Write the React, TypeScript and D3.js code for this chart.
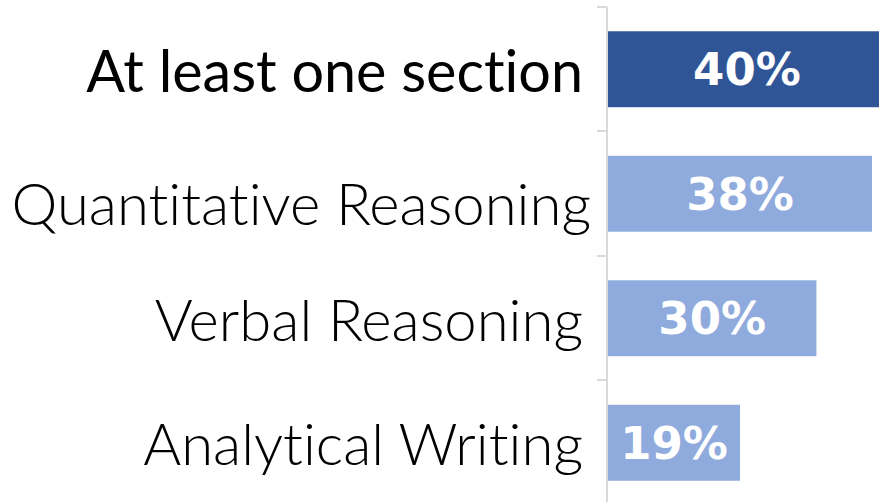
import React from "react";
import * as d3 from "d3";

const categories = ["At least one section", "Quantitative Reasoning", "Verbal Reasoning", "Analytical Writing"];
const values = [40, 38, 30, 19];
const highlight = [true, false, false, false];

const W = 879;
const H = 502;

export default function App() {
  const x0 = 608;
  const x = d3.scaleLinear().domain([0, 38]).range([x0, 872]);
  const y = d3.scaleBand().domain(categories).range([7, 505]).paddingInner(0.39).paddingOuter(0.195);
  const axisX = 607;
  const tickYs = [7, 131, 256, 380, 505];
  // the second label sits slightly lower/right in the source image
  const nudge = (i: number) => (i === 1 ? { dx: 8, dy: 8.5 } : { dx: 0, dy: 0 });
  return (
    <svg width={W} height={H} style={{ position: "absolute", left: 0, top: 0, background: "#fff" }}>
      <g>
        <line x1={axisX} x2={axisX} y1={7} y2={H} stroke="#d9d9d9" strokeWidth={2} />
        {tickYs.map((t, i) => (
          <line key={i} x1={597} x2={axisX} y1={t} y2={t} stroke="#d9d9d9" strokeWidth={2} />
        ))}
      </g>
      {categories.map((c, i) => {
        const by = y(c)!;
        const bh = y.bandwidth();
        const xe = x(values[i]);
        const cy = by + bh / 2;
        const n = nudge(i);
        return (
          <g key={c}>
            <rect x={x0} y={by} width={xe - x0} height={bh} fill={highlight[i] ? "#2f5597" : "#8faadc"} />
            <text
              x={(x0 + xe) / 2}
              y={cy}
              dy="0.36em"
              textAnchor="middle"
              fill="#fff"
              fontFamily="DejaVu Sans"
              fontWeight="bold"
              fontSize={45}
            >
              {values[i]}%
            </text>
            <text
              x={583 + n.dx}
              y={cy + 22.5 + n.dy}
              textAnchor="end"
              fill="#000"
              fontFamily="Lato"
              fontWeight={highlight[i] ? 400 : 300}
              fontSize={highlight[i] ? 57.5 : 58}
              style={{ fontVariantLigatures: "none" }}
            >
              {c}
            </text>
          </g>
        );
      })}
    </svg>
  );
}
